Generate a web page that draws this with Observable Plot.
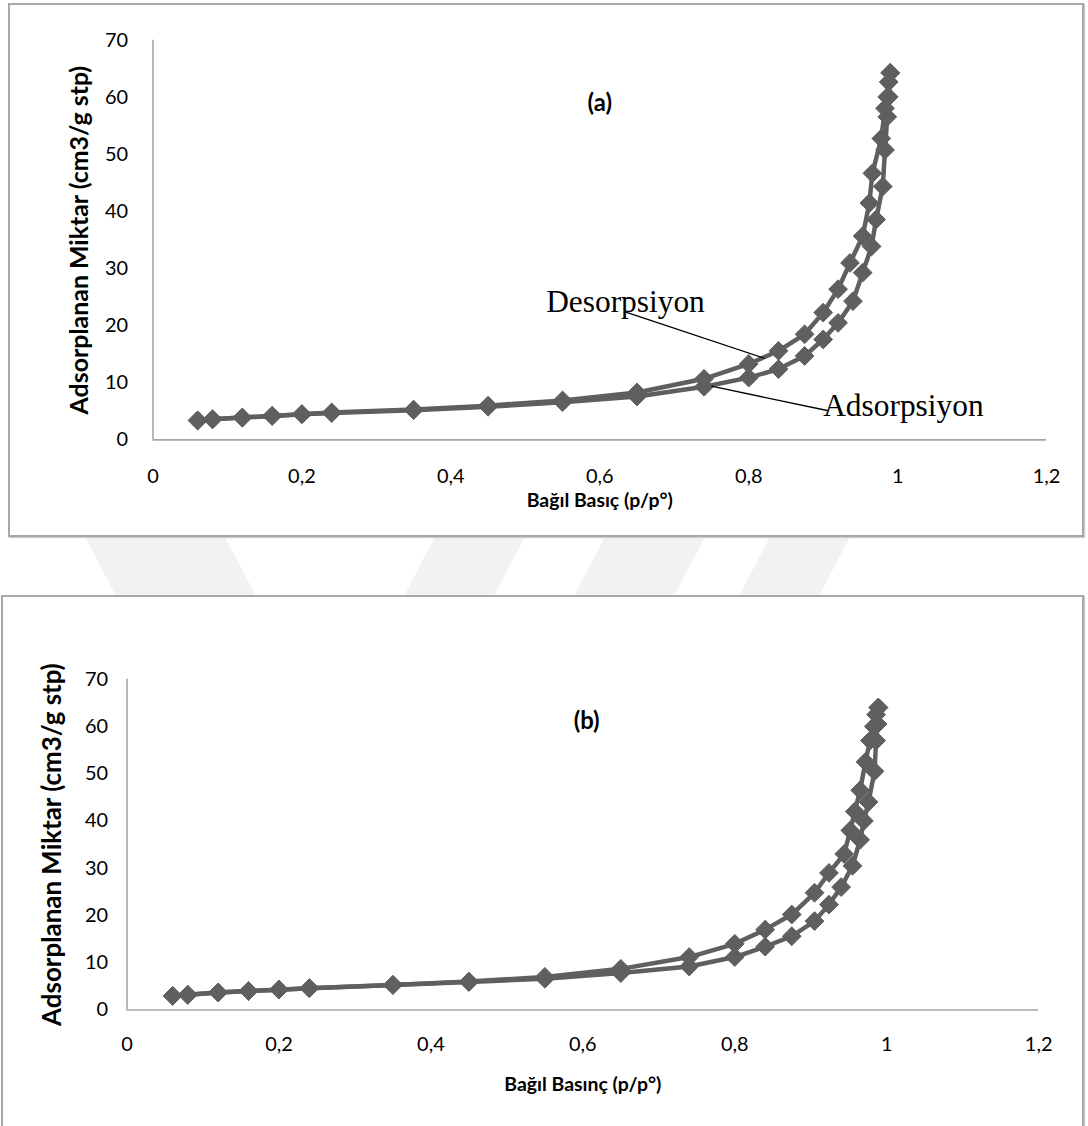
<!DOCTYPE html>
<html>
<head>
<meta charset="utf-8">
<script src="https://cdn.jsdelivr.net/npm/d3@7"></script>
<script src="https://cdn.jsdelivr.net/npm/@observablehq/plot@0.6"></script>
<style>
  html, body { margin: 0; padding: 0; background: #fff; }
  #page { position: relative; width: 1088px; height: 1126px; overflow: hidden; font-family: Lato, "Open Sans", sans-serif; }
  #bg { position: absolute; left: 0; top: 0; }
  .box { position: absolute; box-sizing: border-box; border: 2px solid #a8a8a8; background: #fff; box-shadow: 1px 1px 1px #cfcfcf; }
  .box svg { position: absolute; left: -2px; top: -2px; overflow: visible; }
</style>
</head>
<body>
<div id="page">
  <svg id="bg" width="1088" height="1126"></svg>
  <div class="box" id="boxA" style="left:8px;top:3px;width:1076px;height:534px;"></div>
  <div class="box" id="boxB" style="left:1px;top:595px;width:1083px;height:545px;"></div>
</div>
<script>
// Axis ticks shared by both isotherm panels
const ticksX = [0, 0.2, 0.4, 0.6, 0.8, 1, 1.2];
const ticksY = [0, 10, 20, 30, 40, 50, 60, 70];

// Panel (a): adsorption branch
const adsA_p = [0.06, 0.08, 0.12, 0.16, 0.20, 0.24, 0.35, 0.45, 0.55, 0.65, 0.74, 0.80, 0.84, 0.875, 0.90, 0.92, 0.94, 0.953, 0.965, 0.971, 0.980, 0.983, 0.986, 0.988, 0.990];
const adsA_v = [3.4, 3.6, 3.9, 4.2, 4.5, 4.7, 5.2, 5.8, 6.6, 7.6, 9.3, 10.9, 12.4, 14.7, 17.6, 20.5, 24.3, 29.3, 33.9, 38.6, 44.4, 50.8, 56.6, 60.1, 64.3];
// Panel (a): desorption branch
const desA_p = [0.990, 0.988, 0.986, 0.983, 0.978, 0.966, 0.962, 0.953, 0.936, 0.92, 0.90, 0.875, 0.84, 0.80, 0.74, 0.65, 0.55, 0.45, 0.35, 0.24, 0.20, 0.16, 0.12, 0.08, 0.06];
const desA_v = [64.3, 62.7, 60.1, 58.1, 52.8, 46.7, 41.5, 35.7, 31.0, 26.4, 22.3, 18.5, 15.6, 13.3, 10.7, 8.3, 6.9, 6.0, 5.3, 4.8, 4.5, 4.2, 3.9, 3.6, 3.4];

// Panel (b): adsorption branch
const adsB_p = [0.06, 0.08, 0.12, 0.16, 0.20, 0.24, 0.35, 0.45, 0.55, 0.65, 0.74, 0.80, 0.84, 0.875, 0.905, 0.924, 0.94, 0.955, 0.965, 0.970, 0.976, 0.984, 0.986, 0.988, 0.989];
const adsB_v = [3.0, 3.2, 3.7, 4.0, 4.3, 4.6, 5.3, 5.9, 6.6, 7.8, 9.2, 11.2, 13.4, 15.6, 18.8, 22.3, 26.0, 30.5, 36.0, 40.0, 44.0, 50.5, 57.0, 60.5, 64.0];
// Panel (b): desorption branch
const desB_p = [0.989, 0.986, 0.983, 0.978, 0.972, 0.965, 0.958, 0.952, 0.944, 0.924, 0.905, 0.875, 0.84, 0.80, 0.74, 0.65, 0.55, 0.45, 0.35, 0.24, 0.20, 0.16, 0.12, 0.08, 0.06];
const desB_v = [64.0, 62.5, 60.0, 57.0, 52.5, 46.5, 42.0, 38.0, 33.0, 29.0, 24.8, 20.2, 17.0, 14.0, 11.2, 8.7, 7.0, 6.0, 5.3, 4.6, 4.3, 4.0, 3.7, 3.2, 3.0];

// Texts
const yTitle = "Adsorplanan Miktar (cm3/g stp)";
const xTitleA = "Bağıl Basıç (p/p°)";
const xTitleB = "Bağıl Basınç (p/p°)";
const tagA = "(a)";
const tagB = "(b)";
const branchNames = ["Desorpsiyon", "Adsorpsiyon"];

// Faint diagonal bands of the page background
const bg = d3.select("#bg");
const bands = [
  [[50, 470], [190, 470], [300, 680], [160, 680]],
  [[470, 470], [560, 470], [450, 680], [360, 680]],
  [[640, 470], [740, 470], [630, 680], [530, 680]],
  [[805, 470], [885, 470], [775, 680], [695, 680]]
];
bg.selectAll("polygon").data(bands).join("polygon")
  .attr("points", d => d.map(p => p.join(",")).join(" "))
  .attr("fill", "#f2f2f2");

const grey = "#5f5f5f";
const comma = d => String(d).replace(".", ",");
const pts = (ps, vs) => ps.map((p, i) => ({p, v: vs[i]}));

function isotherm(cfg) {
  const ads = pts(cfg.adsP, cfg.adsV);
  const des = pts(cfg.desP, cfg.desV);
  const marks = [
    Plot.axisX(ticksX, {tickSize: 0, tickPadding: cfg.xPad, tickFormat: comma, label: null, fontSize: 20}),
    Plot.axisY(ticksY, {tickSize: 0, tickPadding: cfg.yPad, label: null, fontSize: 20}),
    Plot.ruleY([0], {stroke: "#a6a6a6", strokeWidth: 1.6}),
    Plot.ruleX([0], {stroke: "#a6a6a6", strokeWidth: 1.6}),
    Plot.line(ads, {x: "p", y: "v", stroke: grey, strokeWidth: 4.5}),
    Plot.line(des, {x: "p", y: "v", stroke: grey, strokeWidth: 4.5}),
    Plot.dot(ads, {x: "p", y: "v", symbol: "diamond2", r: 8.5, fill: grey, stroke: grey, strokeWidth: 1}),
    Plot.dot(des, {x: "p", y: "v", symbol: "diamond2", r: 8.5, fill: grey, stroke: grey, strokeWidth: 1}),
    Plot.text([cfg.tag], {x: cfg.tagAt[0], y: cfg.tagAt[1], fontWeight: "bold", fontSize: 24}),
    Plot.text([cfg.xTitle], {frameAnchor: "bottom", lineAnchor: "middle", dy: cfg.xTitleDy, fontWeight: "bold", fontSize: 19.5}),
    Plot.text([yTitle], {frameAnchor: "left", textAnchor: "middle", lineAnchor: "middle", dx: cfg.yTitleDx, rotate: -90, fontWeight: "bold", fontSize: cfg.yTitleSize})
  ];
  if (cfg.notes) {
    for (const n of cfg.notes) {
      marks.push(Plot.link([n], {x1: d => d.from[0], y1: d => d.from[1], x2: d => d.to[0], y2: d => d.to[1], stroke: "#000", strokeWidth: 1.3}));
      marks.push(Plot.text([n], {x: d => d.at[0], y: d => d.at[1], text: d => d.label, textAnchor: "start",
        fontFamily: "'Liberation Serif', 'Times New Roman', serif", fontSize: 31.5}));
    }
  }
  return Plot.plot({
    width: cfg.width, height: cfg.height,
    marginLeft: cfg.margin[3], marginRight: cfg.margin[1], marginTop: cfg.margin[0], marginBottom: cfg.margin[2],
    style: {fontFamily: "Lato, 'Open Sans', sans-serif", color: "#000", background: "transparent", overflow: "visible"},
    x: {domain: [0, 1.2]},
    y: {domain: [0, 70]},
    marks
  });
}

document.getElementById("boxA").appendChild(isotherm({
  width: 1076, height: 534, margin: [37, 34, 96, 145],
  adsP: adsA_p, adsV: adsA_v, desP: desA_p, desV: desA_v,
  xPad: 29, yPad: 25, xTitle: xTitleA, xTitleDy: 61, yTitleDx: -73, yTitleSize: 25,
  tag: tagA, tagAt: [0.6, 59],
  notes: [
    {label: branchNames[0], at: [0.528, 24.1], from: [0.635, 22.4], to: [0.821, 14.3]},
    {label: branchNames[1], at: [0.900, 5.9], from: [0.75, 9.4], to: [0.907, 5.1]}
  ]
}));

document.getElementById("boxB").appendChild(isotherm({
  width: 1083, height: 545, margin: [84, 42, 129, 126],
  adsP: adsB_p, adsV: adsB_v, desP: desB_p, desV: desB_v,
  xPad: 27, yPad: 19, xTitle: xTitleB, xTitleDy: 75, yTitleDx: -75, yTitleSize: 26,
  tag: tagB, tagAt: [0.605, 61]
}));
</script>
</body>
</html>
